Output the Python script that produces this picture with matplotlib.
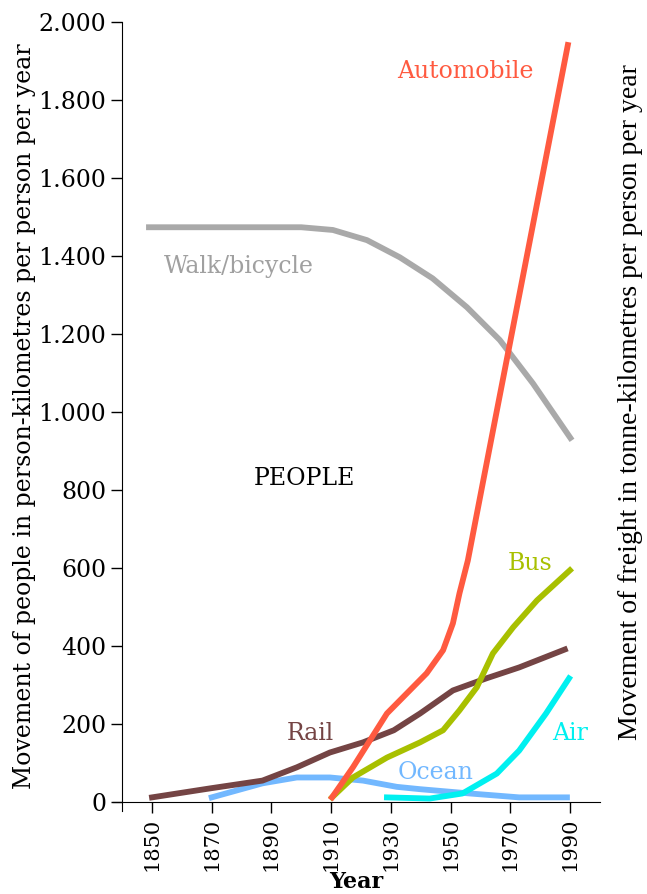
import matplotlib.pyplot as plt

# values
walk_years = [1848, 1870, 1890, 1900, 1910.6, 1922, 1933, 1944, 1955.5, 1966.5, 1977.6, 1990.7]
walk_vals = [1474, 1474, 1474, 1474, 1467, 1441, 1397, 1343, 1269, 1185, 1074, 928]

auto_years = [1910.3, 1917.3, 1928.7, 1934, 1942, 1947.5, 1950.8, 1953, 1955.8, 1961, 1989.3]
auto_vals = [13, 90, 228, 269, 331, 390, 459, 536, 620, 826, 1941]

rail_years = [1850, 1869.4, 1887, 1898.5, 1909.6, 1920.7, 1931, 1939.8, 1950.8, 1962, 1973, 1988.3]
rail_vals = [13, 36, 56, 90, 128, 154, 185, 228, 287, 318, 346, 392]

bus_years = [1910.3, 1917.3, 1928.7, 1939.8, 1947.5, 1953, 1958.8, 1964.2, 1971, 1979, 1990]
bus_vals = [13, 64, 115, 154, 185, 236, 295, 382, 449, 518, 595]

ocean_years = [1870, 1887, 1898.5, 1909.6, 1920.7, 1932, 1939.8, 1956.5, 1973, 1989]
ocean_vals = [13, 49, 64, 64, 56, 40, 34, 23, 13, 13]

air_years = [1928.7, 1943, 1954, 1965.5, 1973, 1982, 1989.7]
air_vals = [13, 10, 23, 74, 133, 228, 318]

year_ticks = [1850, 1870, 1890, 1910, 1930, 1950, 1970, 1990]
val_ticks = [0, 200, 400, 600, 800, 1000, 1200, 1400, 1600, 1800, 2000]
val_labels = ['0', '200', '400', '600', '800', '1.000', '1.200', '1.400', '1.600', '1.800', '2.000']

plt.rcParams['font.family'] = ['DejaVu Serif']

fig = plt.figure(figsize=(6.47, 8.94), dpi=100)
ax = fig.add_axes([0.175, 0.0928, 0.752, 0.8826])

lw = 4.2
ax.plot(walk_years, walk_vals, color='#a9a9a9', lw=lw, solid_capstyle='butt')
ax.plot(ocean_years, ocean_vals, color='#72b8ff', lw=lw)
ax.plot(rail_years, rail_vals, color='#744444', lw=lw)
ax.plot(air_years, air_vals, color='#00f0f0', lw=lw)
ax.plot(bus_years, bus_vals, color='#a8c000', lw=lw)
ax.plot(auto_years, auto_vals, color='#ff5a40', lw=lw)

ax.set_xlim(1837, 2000)
ax.set_ylim(-22, 2000)
ax.spines['top'].set_visible(False)
ax.spines['right'].set_visible(False)
ax.spines['left'].set_position(('data', 1840))
ax.spines['bottom'].set_position(('data', 0))
ax.spines['left'].set_bounds(-22, 2000)

ax.set_xticks(year_ticks)
ax.set_xticklabels([str(y) for y in year_ticks], rotation=90, fontsize=15)
ax.set_yticks(val_ticks)
ax.set_yticklabels(val_labels, fontsize=17)
ax.tick_params(axis='both', direction='out', length=8, width=1)
ax.tick_params(axis='x', pad=3)

ax.set_xlabel('Year', fontsize=16, fontweight='bold', labelpad=0)
ax.set_ylabel('Movement of people in person-kilometres per person per year',
              fontsize=17, labelpad=2)

fig.text(0.974, 0.55, 'Movement of freight in tonne-kilometres per person per year',
         rotation=90, ha='center', va='center', fontsize=20,
         family='Liberation Serif')

ax.text(1955, 1872, 'Automobile', color='#ff5a40', fontsize=17, ha='center', va='center')
ax.text(1879, 1374, 'Walk/bicycle', color='#a0a0a0', fontsize=17, ha='center', va='center')
ax.text(1901, 831, 'PEOPLE', color='black', fontsize=17, ha='center', va='center')
ax.text(1976.6, 613, 'Bus', color='#a8c000', fontsize=17, ha='center', va='center')
ax.text(1903, 177, 'Rail', color='#744444', fontsize=17, ha='center', va='center')
ax.text(1945, 77, 'Ocean', color='#72b8ff', fontsize=17, ha='center', va='center')
ax.text(1990, 177, 'Air', color='#00f0f0', fontsize=17, ha='center', va='center')

fig.savefig('out.png', dpi=100)
